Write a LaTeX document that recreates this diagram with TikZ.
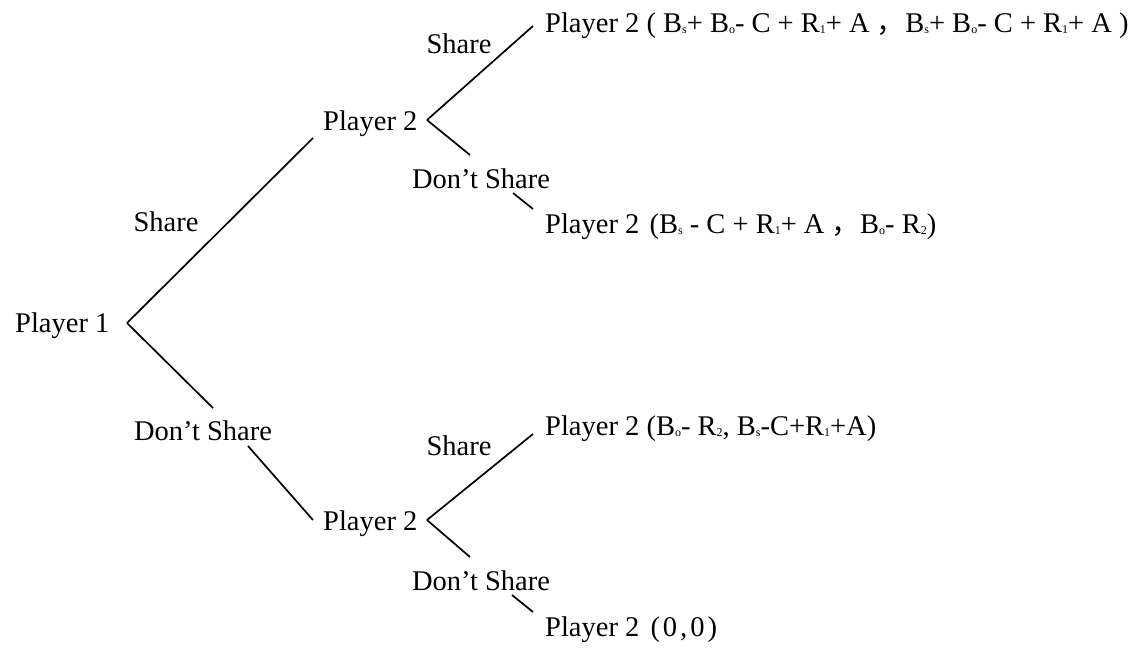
\documentclass[tikz,border=0pt]{standalone}
\usepackage{fontspec}
\setmainfont{Liberation Serif}
\newfontfamily\cjkfont{Noto Sans CJK SC}
% small subscript sitting on the baseline
\newcommand{\lsub}[1]{\raisebox{-1pt}{\fontsize{12}{12}\selectfont #1}}
\newcommand{\wcomma}{{\cjkfont ，}}
\begin{document}
\begin{tikzpicture}[x=1pt,y=-1pt,
  every node/.style={font=\fontsize{28.5}{34}\selectfont, inner sep=0pt},
  txt/.style={anchor=base west},
  lbl/.style={anchor=base},
  branch/.style={line width=1.7pt, line cap=butt}]
\useasboundingbox (0,0) rectangle (1137,648);

% decision nodes
\node[txt] (p1)  at (15,332) {Player 1};
\node[txt] (p2a) at (323,130) {Player 2};
\node[txt] (p2b) at (323,530) {Player 2};

% action labels
\node[lbl] (s1) at (166,231) {Share};
\node[lbl] (d1) at (203,440) {Don’t Share};
\node[lbl] (s2) at (459,53) {Share};
\node[lbl] (d2) at (481,188) {Don’t Share};
\node[lbl] (s3) at (459,455) {Share};
\node[lbl] (d3) at (481,590) {Don’t Share};

% outcomes
\node[txt] (o1) at (545,32) {Player 2 ( B\lsub{s}+ B\lsub{o}- C + R\lsub{1}+ A \wcomma B\lsub{s}+ B\lsub{o}- C + R\lsub{1}+ A )};
\node[txt] (o2) at (545,233) {Player 2 \hspace{3pt}(B\lsub{s} - C + R\lsub{1}+ A \wcomma B\lsub{o}- R\lsub{2})};
\node[txt] (o3) at (545,435) {Player 2 (B\lsub{o}- R\lsub{2}, B\lsub{s}-C+R\lsub{1}+A)};
\node[txt] (o4) at (545,636) {Player 2 \hspace{4pt}(\kern3pt0\kern3pt,\kern3pt0\kern3pt)};

% fork points and branch ends
\coordinate (f1) at (127,323);
\coordinate (f2) at (427,120);
\coordinate (f3) at (427,520);
\coordinate (a1) at (313,138);
\coordinate (b1) at (213,408);
\coordinate (b2) at (248,446);
\coordinate (b3) at (313,520);
\coordinate (c1) at (533,26);
\coordinate (c2) at (470,155);
\coordinate (c3) at (513,193);
\coordinate (c4) at (533,209);
\coordinate (e1) at (533,434);
\coordinate (e2) at (470,557);
\coordinate (e3) at (512,595);
\coordinate (e4) at (533,612);

% branches
\draw[branch] (f1) -- (a1);
\draw[branch] (f1) -- (b1);
\draw[branch] (b2) -- (b3);
\draw[branch] (f2) -- (c1);
\draw[branch] (f2) -- (c2);
\draw[branch] (c3) -- (c4);
\draw[branch] (f3) -- (e1);
\draw[branch] (f3) -- (e2);
\draw[branch] (e3) -- (e4);
\end{tikzpicture}
\end{document}
